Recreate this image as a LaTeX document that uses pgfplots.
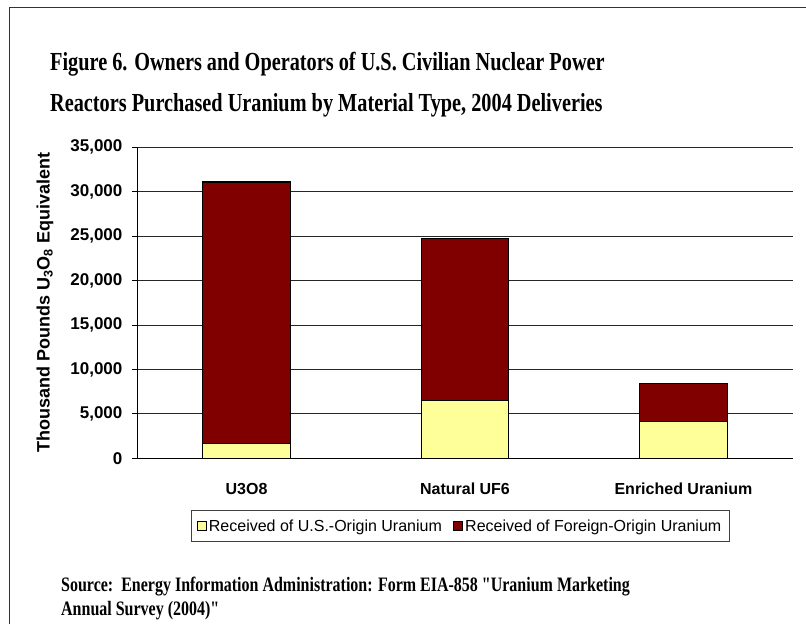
\documentclass[border=0pt]{standalone}
\usepackage{fontspec}
\setmainfont{Liberation Sans}
\newfontfamily\serifcond[FakeStretch=0.78]{Liberation Serif}
\usepackage{pgfplots}
\pgfplotsset{compat=1.18}
\definecolor{usyellow}{HTML}{FFFF99}
\definecolor{forred}{HTML}{800000}

% thousand pounds U3O8 equivalent, 2004 deliveries
\pgfplotstableread{
x us foreign
0 1700 29400
1 6500 18200
2 4150 4250
}\uranium

\begin{document}
\begin{tikzpicture}
\useasboundingbox (0pt,0pt) rectangle (806pt,624pt);
\draw[line width=1.5pt, black!80] (9.5pt,0pt) -- (9.5pt,616.7pt) -- (806pt,616.7pt);

\node[anchor=base west, inner sep=0pt, font=\serifcond\bfseries\fontsize{26}{30}\selectfont]
  at (50pt,553.6pt) {Figure 6. Owners and Operators of U.S. Civilian Nuclear Power};
\node[anchor=base west, inner sep=0pt, font=\serifcond\bfseries\fontsize{26}{30}\selectfont]
  at (50pt,512.4pt) {Reactors Purchased Uranium by Material Type, 2004 Deliveries};

\node[anchor=base west, inner sep=0pt, font=\serifcond\bfseries\fontsize{20.5}{24}\selectfont]
  at (61pt,33pt) {Source:\ \ Energy Information Administration: Form EIA-858 "Uranium Marketing};
\node[anchor=base west, inner sep=0pt, font=\serifcond\bfseries\fontsize{20.5}{24}\selectfont]
  at (61pt,9pt) {Annual Survey (2004)"};

\begin{axis}[
  at={(137.3pt,165.7pt)}, anchor=south west,
  scale only axis, width=655.4pt, height=311pt,
  ybar stacked, bar width=0.4,
  xmin=-0.5, xmax=2.5, ymin=0, ymax=35000,
  axis lines*=left,
  axis line style={black, line width=0.9pt},
  xtick={0,1,2},
  xticklabels={U3O8, Natural UF6, Enriched Uranium},
  x tick style={draw=none},
  extra x ticks={0.5,1.5,2.5},
  extra x tick labels={},
  extra x tick style={tick style={draw=black, line width=0.9pt}, major tick length=5pt, tick align=outside},
  xticklabel style={anchor=base, inner sep=0pt, yshift=-30.7pt, font=\fontsize{16}{18}\selectfont\bfseries},
  ytick={0,5000,...,35000},
  ytick pos=left,
  tick align=outside,
  y tick style={black, line width=0.9pt},
  major tick length=5.7pt,
  ymajorgrids,
  major grid style={black!85, line width=0.9pt},
  yticklabel style={anchor=east, inner sep=0pt, xshift=-9pt, font=\fontsize{17}{19}\selectfont\bfseries},
  /pgf/number format/assume math mode=true,
  /pgf/number format/fixed,
  /pgf/number format/1000 sep={,},
  scaled y ticks=false,
  ylabel={Thousand Pounds U\textsubscript{3}O\textsubscript{8} Equivalent},
  ylabel style={at={(axis description cs:-0.1408,0.5)}, anchor=center, font=\fontsize{18}{20}\selectfont\bfseries},
  legend columns=2,
  legend style={at={(axis description cs:0.4931,-0.2177)}, anchor=center,
    draw=black!75, line width=0.8pt, inner xsep=6pt, inner ysep=5pt,
    font=\fontsize{16}{18}\selectfont,
    nodes={inner xsep=2.5pt, inner ysep=4pt},
    /tikz/every even column/.append style={column sep=9pt}},
  legend image code/.code={\draw[#1, draw=black, line width=0.7pt] (0pt,-4.3pt) rectangle (8.6pt,4.3pt);},
]
\addplot[fill=usyellow, draw=black, line width=1.3pt] table[x=x, y=us] {\uranium};
\addplot[fill=forred, draw=black, line width=1.3pt] table[x=x, y=foreign] {\uranium};
\legend{Received of U.S.-Origin Uranium, Received of Foreign-Origin Uranium}
\end{axis}
\end{tikzpicture}
\end{document}
